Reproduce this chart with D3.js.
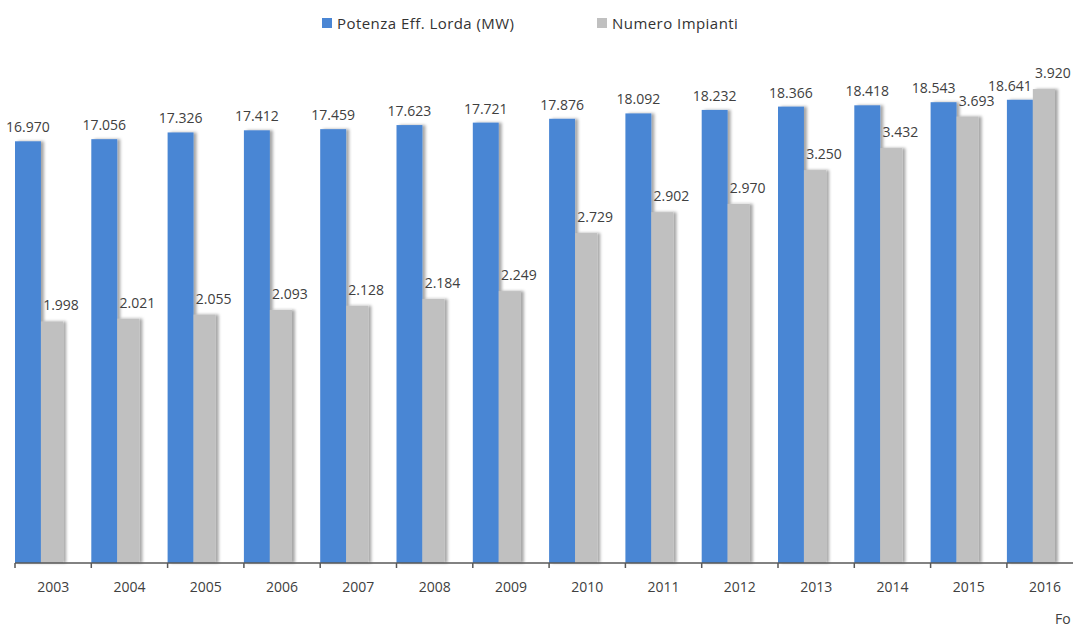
<!DOCTYPE html>
<html>
<head>
<meta charset="utf-8">
<script src="https://cdn.jsdelivr.net/npm/d3@7"></script>
<style>
  body { margin: 0; background: #fff; }
  svg { display: block; font-family: "Open Sans", sans-serif; }
</style>
</head>
<body>
<div id="chart"></div>
<script>
const years = ["2003", "2004", "2005", "2006", "2007", "2008", "2009", "2010", "2011", "2012", "2013", "2014", "2015", "2016"];
const potenza = [16970, 17056, 17326, 17412, 17459, 17623, 17721, 17876, 18092, 18232, 18366, 18418, 18543, 18641];
const impianti = [1998, 2021, 2055, 2093, 2128, 2184, 2249, 2729, 2902, 2970, 3250, 3432, 3693, 3920];
const seriesNames = ["Potenza Eff. Lorda (MW)", "Numero Impianti"];
const colors = ["#4a86d4", "#c0c0c0"];

const width = 1073;
const height = 627;
const baseY = 563;

const fmt = v => d3.format(",.3f")(v / 1000).replace(/,/g, "");

const svg = d3.select("#chart")
  .append("svg")
  .attr("width", width)
  .attr("height", height);

// soft shadow like the office chart
const filter = svg.append("defs").append("filter")
  .attr("id", "shadow")
  .attr("x", "-20%").attr("y", "-5%")
  .attr("width", "150%").attr("height", "110%");
filter.append("feDropShadow")
  .attr("dx", 3).attr("dy", 0)
  .attr("stdDeviation", 1.5)
  .attr("flood-color", "#000")
  .attr("flood-opacity", 0.35);

const x = d3.scaleBand()
  .domain(years)
  .range([15, 15 + 14 * 76.3])
  .padding(0);
const bw = x.bandwidth();

// two independent value axes, both starting at zero
const yP = d3.scaleLinear().domain([0, 20000]).range([baseY, baseY - 497]);
const yN = d3.scaleLinear().domain([0, 4000]).range([baseY, baseY - 483.6]);

const data = years.map((y, i) => ({ year: y, p: potenza[i], n: impianti[i] }));

const blueW = bw * 0.34;
const grayW = bw * 0.29;

const g = svg.append("g");

g.selectAll("rect.p")
  .data(data)
  .join("rect")
  .attr("class", "p")
  .attr("x", d => x(d.year))
  .attr("y", d => yP(d.p))
  .attr("width", blueW)
  .attr("height", d => baseY - yP(d.p))
  .attr("fill", colors[0])
  .attr("filter", "url(#shadow)");

g.selectAll("rect.n")
  .data(data)
  .join("rect")
  .attr("class", "n")
  .attr("x", d => x(d.year) + blueW)
  .attr("y", d => yN(d.n))
  .attr("width", grayW)
  .attr("height", d => baseY - yN(d.n))
  .attr("fill", colors[1])
  .attr("filter", "url(#shadow)");

// value labels
const labelSize = 14;
g.selectAll("text.nl")
  .data(data)
  .join("text")
  .attr("class", "nl")
  .attr("x", d => x(d.year) + blueW + grayW / 2 + 9)
  .attr("y", d => yN(d.n) - 11)
  .attr("text-anchor", "middle")
  .attr("font-size", labelSize)
  .attr("fill", "#404040")
  .text(d => fmt(d.n));

g.selectAll("text.pl")
  .data(data)
  .join("text")
  .attr("class", "pl")
  .attr("x", d => {
    let cx = x(d.year) + blueW / 2;
    // nudge left when the neighbouring label would collide
    const gy = yN(d.n) - 11, py = yP(d.p) - 9;
    if (Math.abs(gy - py) < 14) cx -= 10;
    return cx;
  })
  .attr("y", d => yP(d.p) - 9)
  .attr("text-anchor", "middle")
  .attr("font-size", labelSize)
  .attr("fill", "#404040")
  .text(d => fmt(d.p));

// category axis
const axis = svg.append("g").attr("transform", `translate(0,${baseY})`);
axis.append("line")
  .attr("x1", 15).attr("x2", width)
  .attr("stroke", "#595959").attr("stroke-width", 1.5);
axis.selectAll("line.tick")
  .data(years)
  .join("line")
  .attr("class", "tick")
  .attr("x1", d => x(d)).attr("x2", d => x(d))
  .attr("y1", 0).attr("y2", 5)
  .attr("stroke", "#595959").attr("stroke-width", 1.5);
axis.selectAll("text")
  .data(years)
  .join("text")
  .attr("x", d => x(d) + bw / 2)
  .attr("y", 29)
  .attr("text-anchor", "middle")
  .attr("font-size", 14)
  .attr("fill", "#404040")
  .text(d => d);

// legend
const legendX = [322, 597];
const legend = svg.append("g");
seriesNames.forEach((name, i) => {
  legend.append("rect")
    .attr("x", legendX[i]).attr("y", 18)
    .attr("width", 10).attr("height", 10)
    .attr("fill", colors[i]);
  legend.append("text")
    .attr("x", legendX[i] + 15).attr("y", 28.5)
    .attr("font-size", 15)
    .attr("letter-spacing", 0.45)
    .attr("fill", "#333")
    .text(name);
});

// source note, only its start is visible in the picture
svg.append("text")
  .attr("x", 1055).attr("y", 624)
  .attr("font-size", 14)
  .attr("fill", "#404040")
  .text("Fo");
</script>
</body>
</html>
